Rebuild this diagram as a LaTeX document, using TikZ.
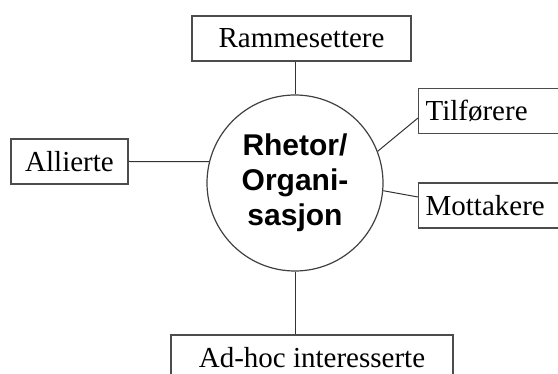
\documentclass[tikz,border=0pt]{standalone}
\usepackage{fontspec}
\setmainfont{Liberation Serif}
\newfontfamily\rhetorfont{Liberation Sans}
\usepackage{tikz}

\begin{document}
\begin{tikzpicture}[x=0.5pt,y=-0.5pt,
  box/.style={rectangle,draw=black!70,line width=0.6pt,minimum height=22.5pt,
    inner xsep=3.5pt,font=\fontsize{14.5}{17}\selectfont},
  ring/.style={circle,draw=black!75,line width=0.6pt,minimum size=88pt,inner sep=0pt,
    align=center,font=\rhetorfont\bfseries\fontsize{15}{17.5}\selectfont},
  link/.style={draw=black!80,line width=0.5pt}]
\clip (0,0) rectangle (558,374);
\node at (295,183) [ring] (Rhetor) {Rhetor/\\Organi-\\sasjon};
\node at (301.5,38.5) [box,minimum width=109.5pt] (Ramme) {Rammesettere};
\node at (69.5,161.5) [box,minimum width=58.5pt] (Allierte) {Allierte};
\node at (418,111) [box,anchor=west,text width=70pt,align=left] (Tilf) {Tilf\o rere};
\node at (418,205.5) [box,anchor=west,text width=70pt,align=left] (Mott) {Mottakere};
\node at (312,357.5) [box,minimum width=141pt] (Adhoc) {Ad-hoc interesserte};
\draw [link] (Rhetor.north) -- (Rhetor.north |- Ramme.south);
\draw [link] (Allierte.east) -- (Rhetor.166);
\draw [link] (Rhetor.21) -- ([yshift=-3.5pt]Tilf.west);
\draw [link] (Rhetor.-5) -- ([yshift=4.25pt]Mott.west);
\draw [link] (Rhetor.south) -- (Rhetor.south |- Adhoc.north);
\end{tikzpicture}
\end{document}
